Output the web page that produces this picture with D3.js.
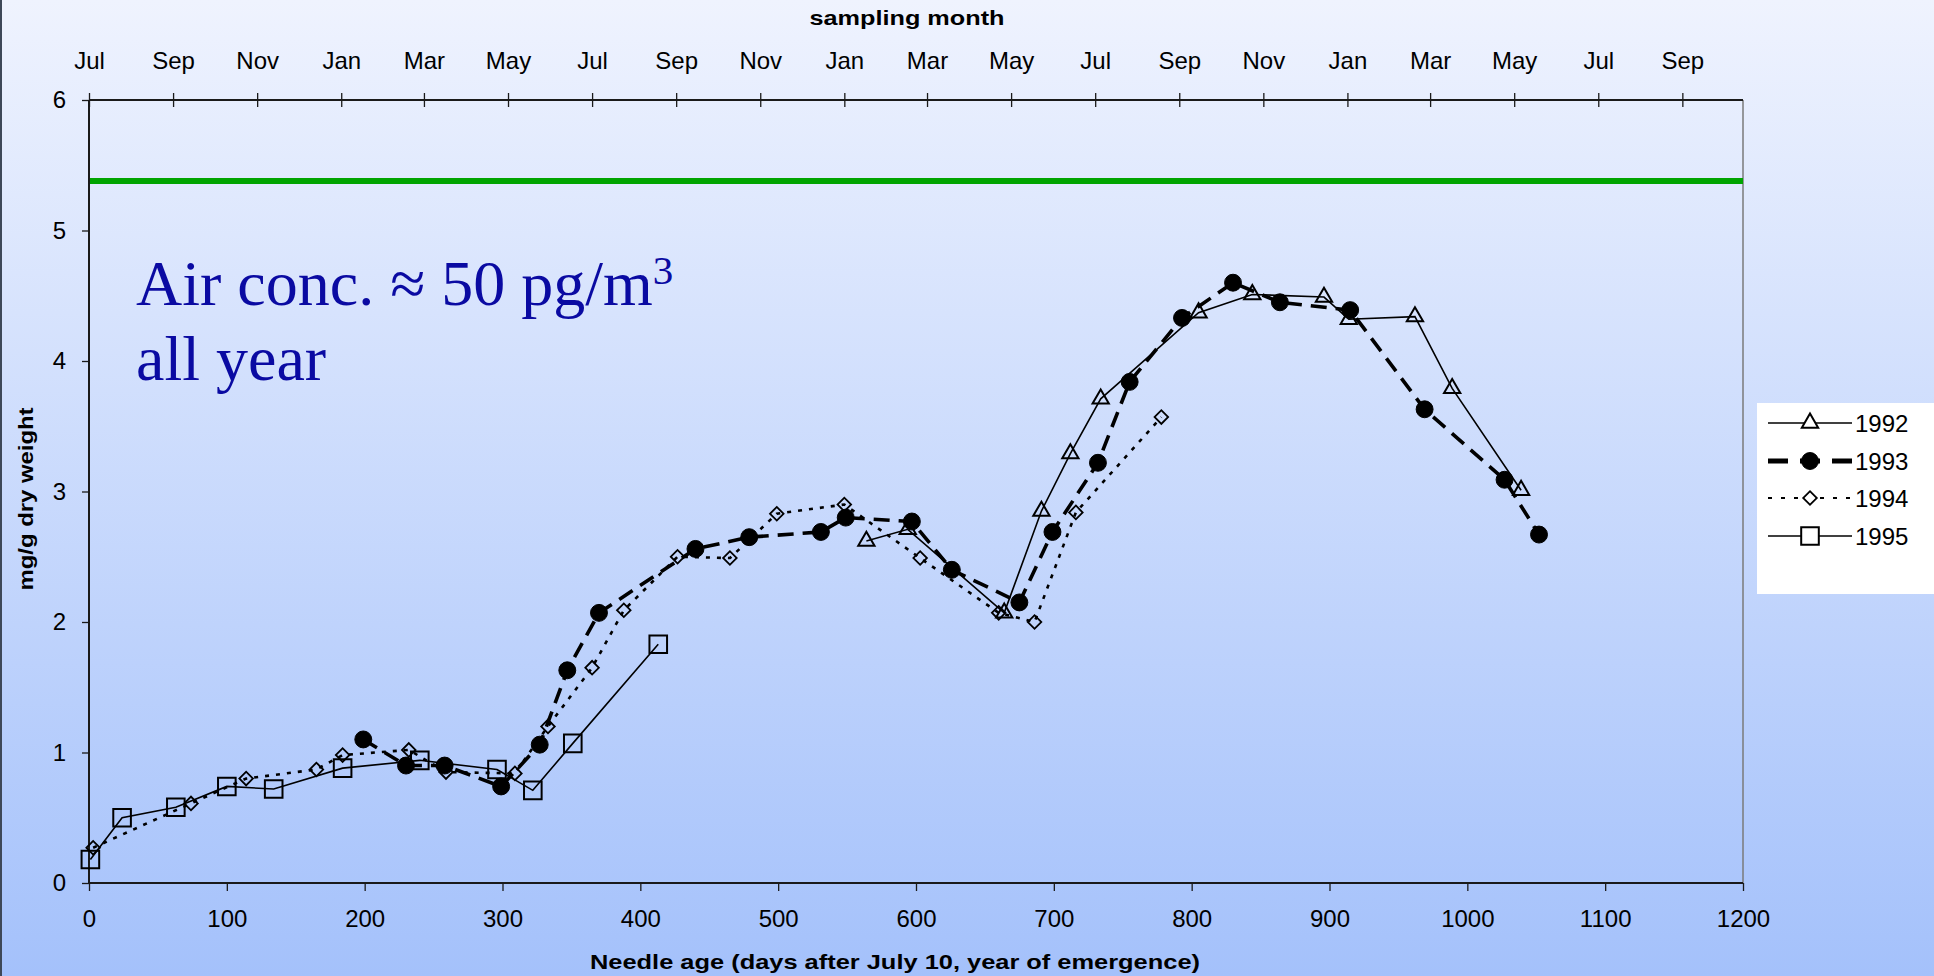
<!DOCTYPE html>
<html><head><meta charset="utf-8">
<script src="https://cdn.jsdelivr.net/npm/d3@7"></script>
<style>html,body{margin:0;padding:0;overflow:hidden;background:#fff}</style>
</head><body>
<svg id="chart" width="1934" height="976"></svg>
<script>
// ---------- data ----------
const seriesNames = ["1992", "1993", "1994", "1995"];

const days1992 = [564, 594, 664, 691, 712, 734, 805, 844, 896, 914, 962, 989, 1039];
const vals1992 = [2.62, 2.71, 2.07, 2.85, 3.29, 3.71, 4.37, 4.51, 4.49, 4.32, 4.34, 3.79, 3.01];

const days1993 = [199, 230, 258, 299, 327, 347, 370, 440, 479, 531, 549, 597, 626, 675, 699, 732, 755, 793, 830, 864, 915, 969, 1027, 1052];
const vals1993 = [1.10, 0.90, 0.90, 0.74, 1.06, 1.63, 2.07, 2.56, 2.65, 2.69, 2.80, 2.77, 2.40, 2.15, 2.69, 3.22, 3.84, 4.33, 4.60, 4.45, 4.39, 3.63, 3.09, 2.67];

const days1994 = [3, 74, 114, 165, 184, 232, 259, 309, 333, 365, 388, 427, 465, 499, 548, 603, 660, 686, 716, 778];
const vals1994 = [0.27, 0.61, 0.80, 0.87, 0.98, 1.02, 0.85, 0.84, 1.20, 1.65, 2.09, 2.50, 2.49, 2.83, 2.90, 2.49, 2.07, 2.00, 2.84, 3.57];

const days1995 = [1, 24, 63, 100, 134, 184, 240, 296, 322, 351, 413];
const vals1995 = [0.18, 0.50, 0.58, 0.74, 0.72, 0.88, 0.94, 0.87, 0.71, 1.07, 1.83];

const referenceLevel = 5.38; // green horizontal line

const xTicks = [0, 100, 200, 300, 400, 500, 600, 700, 800, 900, 1000, 1100, 1200];
const yTicks = [0, 1, 2, 3, 4, 5, 6];
const monthTickDays = [0, 61, 122, 183, 243, 304, 365, 426, 487, 548, 608, 669, 730, 791, 852, 913, 973, 1034, 1095, 1156];
const monthLabels = ["Jul","Sep","Nov","Jan","Mar","May","Jul","Sep","Nov","Jan","Mar","May","Jul","Sep","Nov","Jan","Mar","May","Jul","Sep"];

const xTitle = "Needle age (days after July 10, year of emergence)";
const topTitle = "sampling month";
const yTitle = "mg/g dry weight";

// ---------- layout ----------
const W = 1934, H = 976;
const L = 89, R = 1743, T = 100, B = 883;
const svg = d3.select("#chart");

const defs = svg.append("defs");
const grad = defs.append("linearGradient").attr("id", "bg").attr("x1", 0).attr("y1", 0).attr("x2", 0).attr("y2", 1);
grad.append("stop").attr("offset", "0%").attr("stop-color", "#EFF3FE");
grad.append("stop").attr("offset", "100%").attr("stop-color", "#A4C1FB");
svg.append("rect").attr("width", W).attr("height", H).attr("fill", "url(#bg)");
svg.append("rect").attr("x", 0).attr("y", 0).attr("width", 2).attr("height", H).attr("fill", "#3E4858");

const x = d3.scaleLinear().domain([0, 1200]).range([L, R]);
const y = d3.scaleLinear().domain([0, 6]).range([B, T]);

const sansFont = "'Liberation Sans', Arial, sans-serif";

// right border (gray)
svg.append("line").attr("x1", R).attr("x2", R).attr("y1", T).attr("y2", B)
  .attr("stroke", "#7a7a7a").attr("stroke-width", 1.5);

// bottom axis
const gx = svg.append("g").attr("transform", `translate(0,${B})`)
  .call(d3.axisBottom(x).tickValues(xTicks).tickSize(8).tickPadding(19).tickFormat(d3.format("d")));
// left axis
const gy = svg.append("g").attr("transform", `translate(${L},0)`)
  .call(d3.axisLeft(y).tickValues(yTicks).tickSize(7).tickPadding(16).tickFormat(d3.format("d")));
// top axis (sampling month)
const xm = d3.scaleLinear().domain([0, 1200]).range([L, R]);
const gt = svg.append("g").attr("transform", `translate(0,${T})`)
  .call(d3.axisTop(xm).tickValues(monthTickDays).tickSize(7).tickPadding(24)
    .tickFormat((d, i) => monthLabels[i]));
gt.selectAll(".tick line").attr("y2", 7).attr("y1", -7);

[gx, gy, gt].forEach(g => {
  g.select(".domain").attr("stroke", "#1a1a1a").attr("stroke-width", 2);
  g.selectAll(".tick line").attr("stroke", "#1a1a1a").attr("stroke-width", 1.3);
  g.selectAll(".tick text").attr("font-family", sansFont).attr("font-size", 24).attr("fill", "#000");
});
gt.select(".domain").attr("d", `M${L},0H${R}`);
gx.select(".domain").attr("d", `M${L},0H${R}`);
gy.select(".domain").attr("d", `M0,${T}V${B}`);

// titles
svg.append("text").attr("x", 907).attr("y", 25).attr("text-anchor", "middle")
  .attr("font-family", sansFont).attr("font-weight", "bold").attr("font-size", 21)
  .attr("textLength", 195).attr("lengthAdjust", "spacingAndGlyphs").text(topTitle);
svg.append("text").attr("x", 895).attr("y", 969).attr("text-anchor", "middle")
  .attr("font-family", sansFont).attr("font-weight", "bold").attr("font-size", 21)
  .attr("textLength", 610).attr("lengthAdjust", "spacingAndGlyphs").text(xTitle);
svg.append("text").attr("transform", "translate(25,499) rotate(-90)").attr("text-anchor", "middle")
  .attr("dominant-baseline", "central")
  .attr("font-family", sansFont).attr("font-weight", "bold").attr("font-size", 21)
  .attr("textLength", 183).attr("lengthAdjust", "spacingAndGlyphs").text(yTitle);

// green reference line
svg.append("line").attr("x1", x(0) + 1).attr("x2", x(1200)).attr("y1", y(referenceLevel)).attr("y2", y(referenceLevel))
  .attr("stroke", "#00A400").attr("stroke-width", 6);

// annotation
const ann = svg.append("text").attr("font-family", "'Liberation Serif', 'Times New Roman', serif")
  .attr("font-size", 64).attr("fill", "#0A0AA2");
ann.append("tspan").attr("x", 136).attr("y", 305).text("Air conc. \u2248 50 pg/m");
ann.append("tspan").attr("dy", -21).attr("font-size", 41).text("3");
svg.append("text").attr("font-family", "'Liberation Serif', 'Times New Roman', serif")
  .attr("font-size", 64).attr("fill", "#0A0AA2").attr("x", 136).attr("y", 380).text("all year");

// series
const series = [
  {name: seriesNames[0], days: days1992, vals: vals1992, dash: null, sw: 1.6, legendSw: 1.6,
   symbol: d3.symbolTriangle, size: 115, fill: "none", rot: 0, msw: 2},
  {name: seriesNames[1], days: days1993, vals: vals1993, dash: "16,9", sw: 3.6, legendSw: 5,
   symbol: d3.symbolCircle, size: 225, fill: "#000", rot: 0, msw: 1},
  {name: seriesNames[2], days: days1994, vals: vals1994, dash: "4,7", sw: 2.6, legendSw: 2,
   symbol: d3.symbolSquare, size: 92, fill: "none", rot: 45, msw: 1.8},
  {name: seriesNames[3], days: days1995, vals: vals1995, dash: null, sw: 1.6, legendSw: 1.6,
   symbol: d3.symbolSquare, size: 310, fill: "none", rot: 0, msw: 2},
];

const line = d3.line().x(d => x(d[0])).y(d => y(d[1]));
const drawOrder = [3, 2, 0, 1];
drawOrder.forEach(i => {
  const s = series[i];
  const pts = s.days.map((d, j) => [d, s.vals[j]]);
  svg.append("path").datum(pts).attr("d", line).attr("fill", "none")
    .attr("stroke", "#000").attr("stroke-width", s.sw)
    .attr("stroke-dasharray", s.dash);
});
drawOrder.forEach(i => {
  const s = series[i];
  const pts = s.days.map((d, j) => [d, s.vals[j]]);
  svg.append("g").selectAll("path").data(pts).join("path")
    .attr("transform", d => `translate(${x(d[0])},${y(d[1])}) rotate(${s.rot})`)
    .attr("d", d3.symbol(s.symbol, s.size))
    .attr("fill", s.fill).attr("stroke", "#000").attr("stroke-width", s.msw);
});

// legend
const lg = svg.append("g");
lg.append("rect").attr("x", 1757).attr("y", 403).attr("width", 177).attr("height", 191).attr("fill", "#fff");
const rowY = [423, 461, 498, 536];
series.forEach((s, i) => {
  const yy = rowY[i];
  lg.append("line").attr("x1", 1768).attr("x2", 1852).attr("y1", yy).attr("y2", yy)
    .attr("stroke", "#000").attr("stroke-width", s.legendSw)
    .attr("stroke-dasharray", i === 1 ? "20,12" : (i === 2 ? "4,9" : null));
  lg.append("path").attr("transform", `translate(1810,${yy}) rotate(${s.rot})`)
    .attr("d", d3.symbol(s.symbol, s.size))
    .attr("fill", s.fill === "none" ? "#fff" : s.fill).attr("stroke", "#000").attr("stroke-width", s.msw);
  lg.append("text").attr("x", 1855).attr("y", yy).attr("dominant-baseline", "central")
    .attr("font-family", sansFont).attr("font-size", 24).text(s.name);
});
</script>
</body></html>
